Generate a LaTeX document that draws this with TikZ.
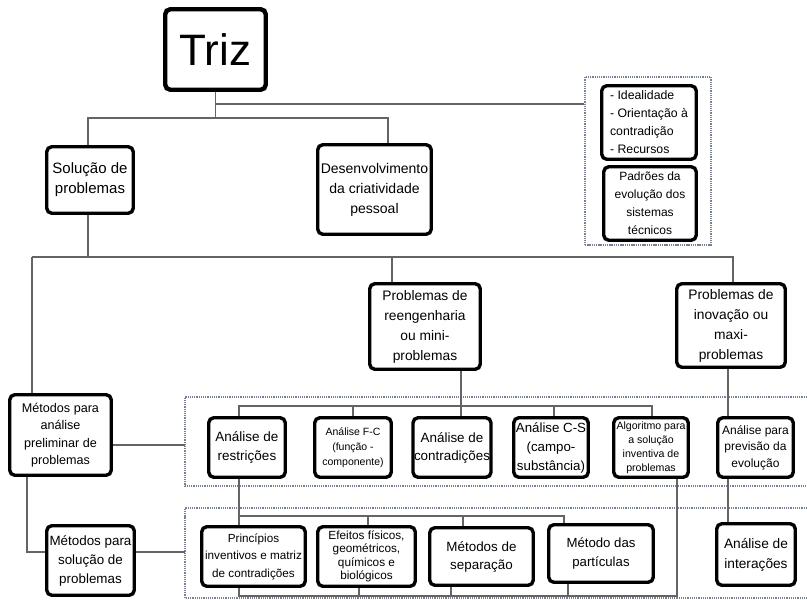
\documentclass[tikz,border=0pt]{standalone}
\usepackage{fontspec}
\setmainfont{Liberation Sans}
\usetikzlibrary{positioning, backgrounds}
\definecolor{trizline}{RGB}{100,100,100}
\definecolor{trizdots}{RGB}{120,128,148}
\newcommand{\fs}[2]{\fontsize{#1}{#2}\selectfont}
\tikzset{
    tbox/.style={draw=black, line width=3.4pt, rounded corners=5pt, fill=white, align=center, inner sep=1pt},
    link/.style={draw=trizline, line width=1.5pt},
    group/.style={draw=trizdots, line width=2.2pt, dash pattern=on 1.3pt off 0.9pt}
}

\begin{document}
\begin{tikzpicture}[x=1pt, y=-1pt]
    \useasboundingbox (0,0) rectangle (807,600);

    % top level
    \node[tbox, line width=4.4pt, minimum width=100.5pt, minimum height=80.5pt, font=\fs{44}{50}] (triz) at (215.5,49.5) {Triz};
    \node[tbox, minimum width=86.5pt, minimum height=66.5pt, font=\fs{15}{20}] (sol) at (90,180) {Solução de\\problemas};
    \node[tbox, minimum width=113.5pt, minimum height=89.5pt, font=\fs{14}{20}] (des) at (374.5,189.5) {Desenvolvimento\\da criatividade\\pessoal};

    % principles group
    \node[group, minimum width=126pt, minimum height=168pt] (grpA) at (648,161) {};
    \node[tbox, align=left, minimum width=94.5pt, minimum height=73.5pt, font=\fs{12.3}{18}] (ideal) at (649,122.5) {- Idealidade\\- Orientação à\\contradição\\- Recursos};
    \node[tbox, minimum width=92.5pt, minimum height=73.5pt, font=\fs{12}{18}] (padroes) at (650,203.5) {Padrões da\\evolução dos\\sistemas\\técnicos};

    % problem types
    \node[tbox, minimum width=110.5pt, minimum height=85.5pt, font=\fs{13.8}{20}] (reeng) at (425,326.5) {Problemas de\\reengenharia\\ou mini-\\problemas};
    \node[tbox, minimum width=108.5pt, minimum height=83.5pt, font=\fs{13.8}{20}] (inov) at (731,325.5) {Problemas de\\inovação ou\\maxi-\\problemas};

    % methods
    \node[tbox, minimum width=101.5pt, minimum height=80.5pt, font=\fs{12.6}{17.5}] (manal) at (60.5,435) {Métodos para\\análise\\preliminar de\\problemas};
    \node[tbox, minimum width=87.5pt, minimum height=69.5pt, font=\fs{13.4}{19}] (msol) at (90.5,560.5) {Métodos para\\solução de\\problemas};

    % analysis row
    \node[tbox, minimum width=76.5pt, minimum height=59.5pt, font=\fs{13.5}{19}] (restr) at (247,447.5) {Análise de\\restrições};
    \node[tbox, minimum width=76.5pt, minimum height=59.5pt, font=\fs{10.5}{15}] (fc) at (353,447.5) {Análise F-C\\(função -\\componente)};
    \node[tbox, minimum width=76.5pt, minimum height=59.5pt, font=\fs{13.4}{18}] (contr) at (452,447.5) {Análise de\\contradições};
    \node[tbox, minimum width=74.5pt, minimum height=59.5pt, font=\fs{13.3}{19}] (cs) at (551,447.5) {Análise C-S\\(campo-\\substância)};
    \node[tbox, minimum width=74.5pt, minimum height=59.5pt, font=\fs{10.6}{14}] (alg) at (651,447.5) {Algoritmo para\\a solução\\inventiva de\\problemas};
    \node[tbox, minimum width=75.5pt, minimum height=59.5pt, font=\fs{12}{16.5}] (prev) at (755.5,447.5) {Análise para\\previsão da\\evolução};

    % solution row
    \node[tbox, minimum width=103.5pt, minimum height=59.5pt, font=\fs{11.7}{17.5}] (princ) at (253.5,556.5) {Princípios\\inventivos e matriz\\de contradições};
    \node[tbox, minimum width=97.5pt, minimum height=59.5pt, font=\fs{11.8}{13.5}] (efeitos) at (366.5,556.5) {Efeitos físicos,\\geométricos,\\químicos e\\biológicos};
    \node[tbox, minimum width=103.5pt, minimum height=57.5pt, font=\fs{13.4}{18}] (separ) at (481.5,556.5) {Métodos de\\separação};
    \node[tbox, minimum width=104.5pt, minimum height=57.5pt, font=\fs{13.2}{19}] (partic) at (601,553.5) {Método das\\partículas};
    \node[tbox, minimum width=78.5pt, minimum height=61.5pt, font=\fs{13.7}{20}] (inter) at (756,554.5) {Análise de\\interações};

    \begin{scope}[on background layer]
        % dotted groups, open to the right
        \coordinate (gB) at (185,445);
        \coordinate (gC) at (185,552);
        \draw[group] (807,397) -| (185,486) -- (807,486);
        \draw[group] (807,508) -| (185,598) -- (807,598);

        % from Triz
        \coordinate (tj) at (215.5,118);
        \coordinate (tk) at (215.5,104);
        \draw[link] (triz.south) -- (tj);
        \draw[link] ([xshift=-2pt]sol.north) |- (tj) -| ([xshift=13.5pt]des.north);
        \draw[link] (tk) -- (tk -| grpA.west);

        % from Solucao de problemas
        \coordinate (sj) at (32,257);
        \draw[link] ([xshift=-2pt]sol.south) |- (sj);
        \draw[link] (sj) -- (sj |- manal.north);
        \draw[link] (sj) -| ([xshift=2pt]inov.north);
        \draw[link] ([xshift=-33pt]reeng.north) -- ([xshift=-33pt]reeng.north |- sj);

        % analysis row
        \coordinate (r1) at (239,406);
        \draw[link] ([xshift=36pt]reeng.south) -- ([xshift=9pt]contr.north);
        \draw[link] ([xshift=-8pt]restr.north) |- ([xshift=1pt]alg.north |- r1) -- ([xshift=1pt]alg.north);
        \draw[link] (fc.north) -- (fc.north |- r1);
        \draw[link] ([xshift=3pt]cs.north) -- ([xshift=3pt]cs.north |- r1);
        \draw[link] ([xshift=-3pt]inov.south) -- ([xshift=-27.5pt]prev.north);
        \draw[link] ([xshift=-27.5pt]prev.south) -- ([xshift=-28pt]inter.north);

        % solution row
        \coordinate (r2) at (239,516);
        \coordinate (r3) at (239,596);
        \draw[link] ([xshift=-8pt]restr.south) -- ([xshift=-14.5pt]princ.north);
        \draw[link] (r2) -| ([xshift=-37pt]partic.north);
        \draw[link] ([xshift=1.5pt]efeitos.north) -- ([xshift=1.5pt]efeitos.north |- r2);
        \draw[link] ([xshift=-18.5pt]separ.north) -- ([xshift=-18.5pt]separ.north |- r2);
        \draw[link] ([xshift=-14.5pt]princ.south) |- (r3) -| ([xshift=26pt]alg.south);
        \draw[link] ([xshift=-7.5pt]efeitos.south) -- ([xshift=-7.5pt]efeitos.south |- r3);
        \draw[link] ([xshift=-30.5pt]separ.south) -- ([xshift=-30.5pt]separ.south |- r3);
        \draw[link] ([xshift=-33pt]partic.south) -- ([xshift=-33pt]partic.south |- r3);

        % methods
        \draw[link] (manal.east |- gB) -- (gB);
        \draw[link] ([xshift=-33.5pt]manal.south) |- (msol.west |- gC);
        \draw[link] (msol.east |- gC) -- (gC);
    \end{scope}
\end{tikzpicture}
\end{document}
